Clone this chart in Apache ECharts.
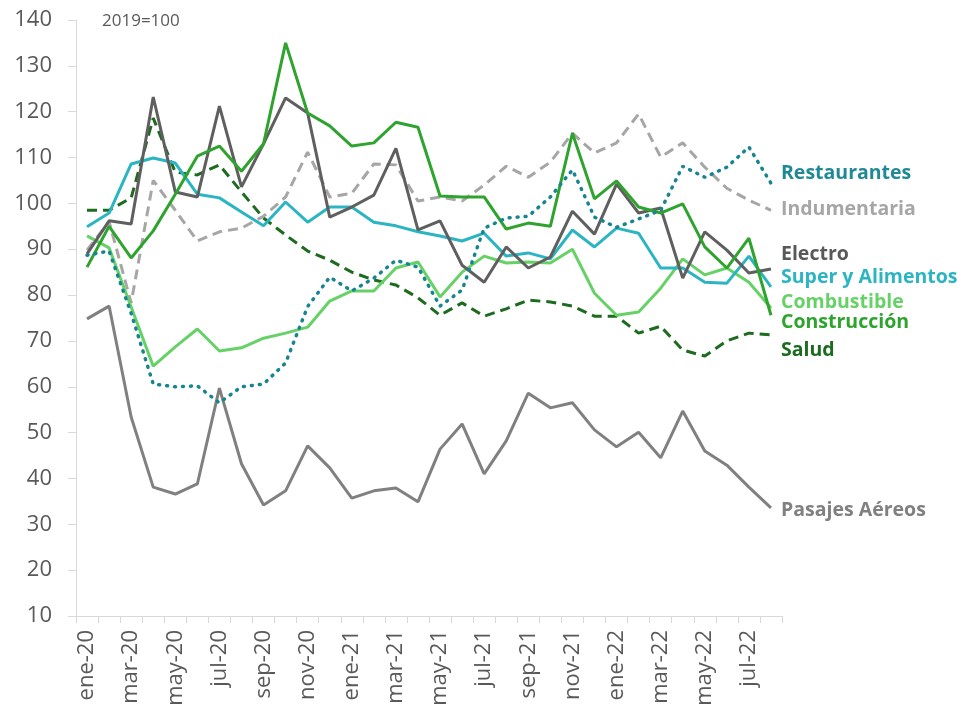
<!DOCTYPE html>
<html>
<head>
<meta charset="utf-8">
<script src="https://cdn.jsdelivr.net/npm/echarts@6/dist/echarts.min.js"></script>
<style>
  html, body { margin: 0; padding: 0; background: #fff; }
  #chart { width: 961px; height: 712px; }
</style>
</head>
<body>
<div id="chart"></div>
<script>
// meses ene-20 .. ago-22
const months = ['ene-20','feb-20','mar-20','abr-20','may-20','jun-20','jul-20','ago-20','sep-20','oct-20','nov-20','dic-20',
  'ene-21','feb-21','mar-21','abr-21','may-21','jun-21','jul-21','ago-21','sep-21','oct-21','nov-21','dic-21',
  'ene-22','feb-22','mar-22','abr-22','may-22','jun-22','jul-22','ago-22'];

const restaurantes = [88.7, 89.6, 76, 60.6, 60, 60.2, 56.5, 60, 60.6, 65.2, 77.5, 83.9,
  80.9, 83.7, 87.6, 86.1, 77.6, 81.1, 94.6, 96.8, 97.2, 101.4, 107.3, 97,
  94.8, 96.6, 98.5, 108.1, 105.7, 107.9, 112.3, 104.4];
const indumentaria = [89.8, 96, 78.3, 105, 98.5, 91.8, 93.8, 94.6, 97.2, 101.4, 111.2, 101.4,
  102.2, 108.6, 108.4, 100.5, 101.4, 100.5, 104, 108.1, 105.7, 109, 115.3, 111,
  113.2, 119.5, 110.1, 113.2, 107.9, 103.3, 100.7, 98.5];
const electro = [89, 96.2, 95.5, 123.2, 102.5, 101.4, 121.2, 103.6, 113, 123, 119.7, 97,
  99.2, 101.8, 112, 94.2, 96.2, 86.5, 82.8, 90.5, 85.9, 88.3, 98.3, 93.3,
  104.2, 97.9, 99, 83.7, 93.8, 89.8, 84.8, 85.7];
const superAlimentos = [94.9, 97.9, 108.6, 109.9, 108.8, 102, 101.2, 98.1, 95.1, 100.3, 95.9, 99.2,
  99.2, 95.9, 95.1, 93.8, 92.9, 91.8, 93.5, 88.5, 89.2, 87.9, 94.2, 90.5,
  94.6, 93.5, 85.9, 85.9, 82.8, 82.6, 88.5, 81.8];
const combustible = [92.9, 90.3, 77.4, 64.5, 68.7, 72.6, 67.8, 68.5, 70.6, 71.7, 73, 78.7,
  80.9, 80.9, 85.9, 87.2, 79.6, 85, 88.5, 87, 87.2, 87, 90, 80.4,
  75.6, 76.3, 81.5, 87.9, 84.4, 85.9, 82.8, 77.2];
const construccion = [86.1, 95, 88.1, 94, 102, 110.3, 112.5, 107, 113, 135, 119.7, 116.9,
  112.5, 113.2, 117.7, 116.6, 101.6, 101.4, 101.4, 94.4, 95.7, 95, 115.3, 101,
  104.9, 99.2, 97.9, 99.9, 90.5, 85.9, 92.4, 75.6];
const salud = [98.5, 98.5, 101.2, 118.6, 106.8, 106.2, 108.4, 102.5, 96.8, 93.1, 89.6, 87.6,
  85, 83.3, 82.2, 79.4, 75.6, 78.3, 75.4, 77, 78.9, 78.5, 77.6, 75.4,
  75.4, 71.7, 73.2, 68, 66.7, 70, 71.7, 71.3];
const pasajes = [74.8, 77.6, 53.4, 38.1, 36.6, 38.8, 59.7, 43.2, 34.2, 37.3, 47.1, 42.3,
  35.7, 37.3, 37.9, 34.9, 46.4, 51.9, 41, 48.2, 58.6, 55.4, 56.5, 50.6,
  46.9, 50.1, 44.5, 54.7, 46, 42.9, 38.1, 33.6];

const chart = echarts.init(document.getElementById('chart'));

function line(name, data, color, type, width) {
  return {
    name: name,
    type: 'line',
    data: data,
    symbol: 'none',
    animation: false,
    lineStyle: { color: color, width: width || 3, type: type || 'solid', cap: type && typeof type === 'object' && type[0] === 1 ? 'round' : 'butt' }
  };
}

function label(text, y, color) {
  return {
    type: 'text', x: 781, y: y,
    style: { text: text, fill: color, font: 'bold 19.5px "Open Sans", sans-serif', verticalAlign: 'middle' }
  };
}

chart.setOption({
  animation: false,
  grid: { left: 76, right: 179, top: 20, bottom: 96 },
  xAxis: {
    type: 'category',
    data: months,
    boundaryGap: true,
    axisLine: { lineStyle: { color: '#d9d9d9', width: 1 } },
    axisTick: { show: true, alignWithLabel: false, interval: 0, length: 7, lineStyle: { color: '#d9d9d9' } },
    axisLabel: { interval: 1, rotate: 90, color: '#595959', fontSize: 22, fontFamily: '"Open Sans", sans-serif', margin: 14 }
  },
  yAxis: {
    type: 'value',
    min: 10, max: 140, interval: 10,
    axisLine: { show: true, lineStyle: { color: '#d9d9d9' } },
    axisTick: { show: true, length: 8, lineStyle: { color: '#d9d9d9' } },
    splitLine: { show: false },
    axisLabel: { color: '#595959', fontSize: 22, fontFamily: '"Open Sans", sans-serif', margin: 24 }
  },
  series: [
    line('Pasajes Aéreos', pasajes, '#808080'),
    line('Salud', salud, '#1c6b1f', [10, 6]),
    line('Indumentaria', indumentaria, '#a6a6a6', [10, 6]),
    line('Combustible', combustible, '#66d166'),
    line('Super y Alimentos', superAlimentos, '#2bb5c2'),
    line('Electro', electro, '#5f5f5f'),
    line('Construcción', construccion, '#2ea32e'),
    line('Restaurantes', restaurantes, '#17858f', [1, 7], 3.5)
  ],
  graphic: [
    { type: 'text', x: 102, y: 21, style: { text: '2019=100', fill: '#595959', font: '17px "Open Sans", sans-serif', verticalAlign: 'middle' } },
    label('Restaurantes', 173, '#1f8a96'),
    label('Indumentaria', 209, '#a6a6a6'),
    label('Electro', 254, '#595959'),
    label('Super y Alimentos', 277, '#2bb5c2'),
    label('Combustible', 302, '#66d166'),
    label('Construcción', 322, '#2ea32e'),
    label('Salud', 350, '#1c6b1f'),
    label('Pasajes Aéreos', 510, '#808080')
  ]
});
</script>
</body>
</html>
